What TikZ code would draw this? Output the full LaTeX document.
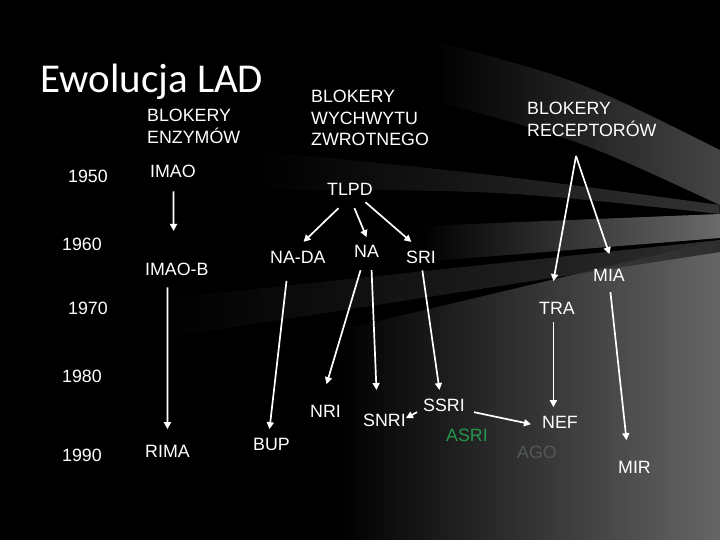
\documentclass[tikz,border=0pt]{standalone}
\usepackage{fontspec}
\setmainfont{Liberation Sans}
\newfontfamily\titlefont{Carlito}
\usetikzlibrary{arrows.meta,calc,fadings}
\tikzfading[name=fadeRs, left color=transparent!100, right color=transparent!0]
\definecolor{asrigreen}{RGB}{38,150,76}
\definecolor{agogray}{RGB}{82,88,82}
\definecolor{bglow}{gray}{0.40}
\definecolor{bgs1}{gray}{0.27}
\definecolor{bgs2}{gray}{0.20}
\definecolor{bgs3}{gray}{0.42}
\definecolor{bgs4}{gray}{0.18}
\begin{document}
\begin{tikzpicture}[x=1pt,y=-1pt,
  txt/.style={text=white,inner sep=0pt,anchor=base west,font=\fontsize{17.8}{21.5}\selectfont},
  arr/.style={white,line width=1.7pt,-{Triangle[length=7pt,width=7pt]}},
  streak/.style={path fading=fadeRs}]
\useasboundingbox (0,0) rectangle (720,540);
% background
\fill[black] (0,0) rectangle (720,540);
\shade[left color=black, right color=bglow] (340,330) -- (720,240) -- (720,540) -- (340,540) -- cycle;
\fill[bgs1,streak] (430,40) .. controls (580,80) .. (720,150) -- (720,205) .. controls (580,140) .. (430,100) -- cycle;
\fill[bgs2,streak] (250,150) .. controls (500,175) .. (720,205) -- (720,214) .. controls (500,190) .. (250,190) -- cycle;
\fill[bgs3,streak] (420,226) -- (720,214) -- (720,238) -- (420,262) -- cycle;
\fill[bgs4,streak] (150,300) -- (720,240) -- (720,252) -- (150,340) -- cycle;
% titles
\node[txt,font=\titlefont\fontsize{41}{48}\selectfont] (title) at (40,93) {Ewolucja LAD};
\node[txt] (enz) at (147,122) {\begin{tabular}[t]{@{}l@{}}BLOKERY\\ENZYMÓW\end{tabular}};
\node[txt] (wych) at (311,103) {\begin{tabular}[t]{@{}l@{}}BLOKERY\\WYCHWYTU\\ZWROTNEGO\end{tabular}};
\node[txt] (rec) at (527,115) {\begin{tabular}[t]{@{}l@{}}BLOKERY\\RECEPTORÓW\end{tabular}};
\coordinate (apex) at (576,156);
% years
\node[txt] (y50) at (68,183) {1950};
\node[txt] (y60) at (62,251) {1960};
\node[txt] (y70) at (68,314) {1970};
\node[txt] (y80) at (62,382) {1980};
\node[txt] (y90) at (62,461) {1990};
% drugs
\node[txt] (imao) at (150,178) {IMAO};
\node[txt] (imaob) at (145,275) {IMAO-B};
\node[txt] (rima) at (145,457) {RIMA};
\node[txt] (tlpd) at (327,196) {TLPD};
\node[txt] (nada) at (270,263) {NA-DA};
\node[txt] (na) at (354,257) {NA};
\node[txt] (sri) at (406,263) {SRI};
\node[txt] (bup) at (253,450) {BUP};
\node[txt] (nri) at (310,417) {NRI};
\node[txt] (snri) at (363,426) {SNRI};
\node[txt] (ssri) at (423,411) {SSRI};
\node[txt,text=asrigreen] (asri) at (446,441) {ASRI};
\node[txt] (nef) at (542,428) {NEF};
\node[txt,text=agogray] (ago) at (517,458) {AGO};
\node[txt] (tra) at (539,314) {TRA};
\node[txt] (mia) at (593,281) {MIA};
\node[txt] (mir) at (618,473) {MIR};
% arrows
\draw[arr] ($(imao.south)+(0.5,13)$) -- ($(imaob.north)+(-3.3,-31.4)$);
\draw[arr] ($(imaob.south)+(-9.3,12)$) -- ($(rima.north)+(0,-15.4)$);
\draw[arr] ($(nada.south)+(-11.4,17.7)$) -- ($(bup.north)+(-2,-8.4)$);
\draw[arr] ($(tlpd.south)+(-11.5,12)$) -- ($(nada.north)+(5.6,-8.7)$);
\draw[arr] ($(tlpd.south)+(4.5,12)$) -- ($(na.north)+(0,-7.4)$);
\draw[arr] ($(tlpd.south)+(15.5,6)$) -- ($(sri.north)+(-9.7,-8.4)$);
\draw[arr] ($(na.south)+(-6,13)$) -- ($(nri.north)+(1,-20.4)$);
\draw[arr] ($(na.south)+(5,13)$) -- ($(snri.north)+(-8,-23.4)$);
\draw[arr] ($(sri.south)+(1.3,7)$) -- ($(ssri.north)+(-4.5,-8.4)$);
\draw[arr] ($(ssri.west)+(-6,7.3)$) -- ($(snri.east)+(0,-1.7)$);
\draw[arr] ($(ssri.east)+(9,7.3)$) -- ($(nef.west)+(-11,2.3)$);
\draw[arr] (apex) -- ($(tra.north)+(-3.6,-20.4)$);
\draw[arr] (apex) -- ($(mia.north)+(0.4,-14.4)$);
\draw[arr] ($(tra.south)+(-3.6,8)$) -- ($(nef.north)+(-6.6,-8.4)$);
\draw[arr] ($(mia.south)+(1.4,11)$) -- ($(mir.north)+(-8,-20.4)$);
\end{tikzpicture}
\end{document}
